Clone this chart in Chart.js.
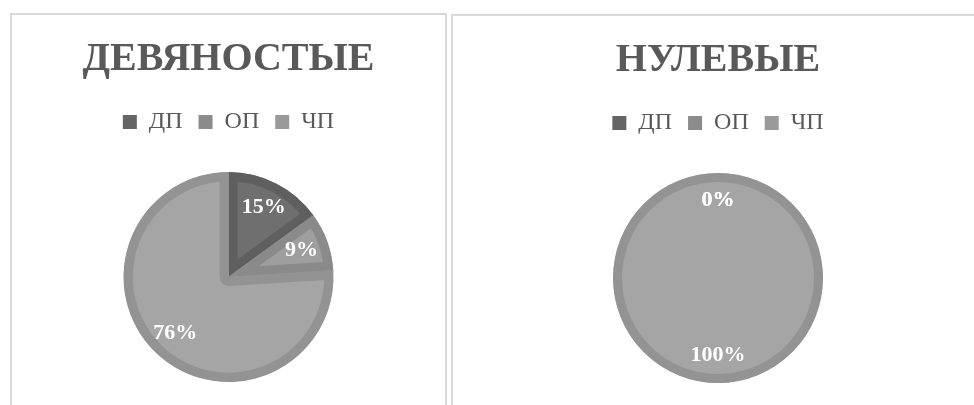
<!DOCTYPE html>
<html>
<head>
<meta charset="utf-8">
<script src="https://cdn.jsdelivr.net/npm/chart.js@4.4.1/dist/chart.umd.min.js"></script>
<style>
    body { margin: 0; background: #fff; width: 974px; height: 405px; overflow: hidden; position: relative; }
    .panel { position: absolute; border: 2px solid #d9d9d9; background: #fff; }
    #p1 { left: 10px; top: 13px; width: 433px; height: 400px; }
    #p2 { left: 451px; top: 14px; width: 530px; height: 400px; }
    .panel canvas { display: block; }
</style>
</head>
<body>
<div class="panel" id="p1"><canvas id="chart90" width="433" height="390"></canvas></div>
<div class="panel" id="p2"><canvas id="chart00" width="530" height="390"></canvas></div>
<script>
// Категории и значения (в процентах)
const labels = ['ДП', 'ОП', 'ЧП'];
const deviano = [15, 9, 76];
const nulevye = [0, 0, 100];

const fillColors = ['#6f6f6f', '#9e9e9e', '#a5a5a5'];
const edgeColors = ['#5f5f5f', '#8a8a8a', '#939393'];
const legendColors = ['#656565', '#8b8b8b', '#9a9a9a'];

const serif = "'Liberation Serif', 'DejaVu Serif', serif";
const EDGE = 9;

const isFull = (ctx) => {
    const data = ctx.chart.data.datasets[0].data;
    const total = data.reduce((a, b) => a + b, 0);
    return data[ctx.dataIndex] >= total;
};

// целый круг: обводка без радиальной линии
const fullRing = {
    id: 'fullRing',
    afterDatasetsDraw(chart) {
        const ctx = chart.ctx;
        const meta = chart.getDatasetMeta(0);
        const data = chart.data.datasets[0].data;
        const total = data.reduce((a, b) => a + b, 0);
        meta.data.forEach((arc, i) => {
            if (data[i] < total) return;
            const p = arc.getProps(['x', 'y', 'outerRadius'], true);
            ctx.save();
            ctx.strokeStyle = edgeColors[i];
            ctx.lineWidth = EDGE;
            ctx.beginPath();
            ctx.arc(p.x, p.y, p.outerRadius - EDGE / 2, 0, Math.PI * 2);
            ctx.stroke();
            ctx.restore();
        });
    }
};

// подписи процентов внутри секторов
const pctLabels = {
    id: 'pctLabels',
    afterDatasetsDraw(chart) {
        const ctx = chart.ctx;
        const meta = chart.getDatasetMeta(0);
        const values = chart.data.datasets[0].data;
        ctx.save();
        ctx.fillStyle = '#ffffff';
        ctx.font = 'bold 22px ' + serif;
        ctx.textAlign = 'center';
        ctx.textBaseline = 'middle';
        meta.data.forEach((arc, i) => {
            const p = arc.getProps(['x', 'y', 'startAngle', 'endAngle', 'outerRadius'], true);
            const mid = (p.startAngle + p.endAngle) / 2;
            const r = p.outerRadius * 0.74;
            ctx.fillText(values[i] + '%', p.x + Math.cos(mid) * r, p.y + Math.sin(mid) * r);
        });
        ctx.restore();
    }
};

// дополнительный отступ под легендой
const legendGap = {
    id: 'legendGap',
    beforeInit(chart) {
        const fit = chart.legend.fit;
        chart.legend.fit = function () {
            fit.bind(this)();
            this.height += 28;
        };
    }
};

const makePie = (id, title, values) => {
    const ctx = document.getElementById(id).getContext('2d');
    return new Chart(ctx, {
        type: 'pie',
        data: {
            labels: labels,
            datasets: [{
                data: values,
                backgroundColor: fillColors,
                borderColor: edgeColors,
                borderWidth: (c) => isFull(c) ? 0 : EDGE,
                borderAlign: 'inner'
            }]
        },
        options: {
            responsive: false,
            animation: false,
            layout: { padding: { bottom: 23 } },
            plugins: {
                tooltip: { enabled: false },
                title: {
                    display: true,
                    text: title,
                    color: '#595959',
                    font: { family: serif, size: 40, weight: 'bold', lineHeight: 1.2 },
                    padding: { top: 21, bottom: 10 }
                },
                legend: {
                    position: 'top',
                    labels: {
                        color: '#595959',
                        font: { family: serif, size: 24 },
                        boxWidth: 14,
                        boxHeight: 14,
                        padding: 16,
                        generateLabels: (chart) => labels.map((l, i) => ({
                            text: l,
                            fillStyle: legendColors[i],
                            strokeStyle: legendColors[i],
                            lineWidth: 0,
                            fontColor: '#595959',
                            index: i
                        }))
                    }
                }
            }
        },
        plugins: [fullRing, pctLabels, legendGap]
    });
};

makePie('chart90', 'ДЕВЯНОСТЫЕ', deviano);
makePie('chart00', 'НУЛЕВЫЕ', nulevye);
</script>
</body>
</html>
